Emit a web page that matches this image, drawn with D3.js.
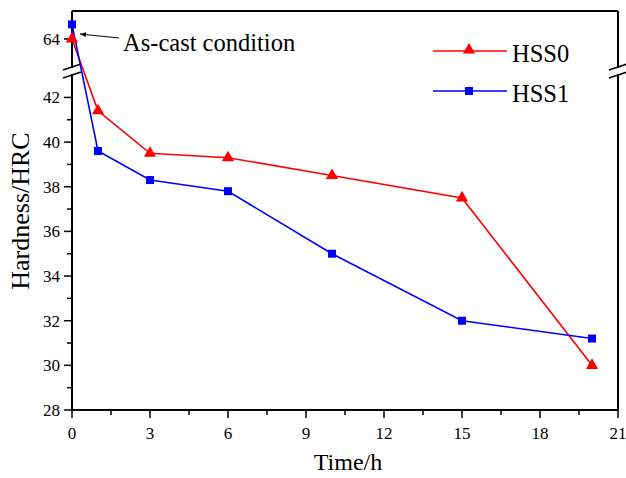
<!DOCTYPE html>
<html>
<head>
<meta charset="utf-8">
<script src="https://cdn.jsdelivr.net/npm/d3@7"></script>
<style>
  body { margin: 0; background: #fff; }
  text { font-family: "Liberation Serif", "Times New Roman", serif; fill: #000; }
</style>
</head>
<body>
<div id="display"></div>
<script>
// data
let times = [0, 1, 3, 6, 10, 15, 20];
let hss0 = [64.0, 41.4, 39.5, 39.3, 38.5, 37.5, 30.0];
let hss1 = [64.65, 39.6, 38.3, 37.8, 35.0, 32.0, 31.2];
let xTicks = [0, 3, 6, 9, 12, 15, 18, 21];
let yTicksLow = [28, 30, 32, 34, 36, 38, 40, 42];
let yTicksHigh = [64];
let seriesNames = ['HSS0', 'HSS1'];

let width = 626, height = 478;
// plot box edges
let box = {left: 72, right: 618, top: 11, bottom: 410};
let breakLo = 74, breakHi = 68;

let svg = d3.select('#display')
    .append('svg')
        .attr('width', width)
        .attr('height', height);

// x scale
let x = d3.scaleLinear()
    .domain([0, 21])
    .range([box.left, box.right]);

// broken y scale: lower part 28..43, upper part 62.7..65.25
let y = d3.scaleLinear()
    .domain([28, 43.05, 62.7, 65.25])
    .range([box.bottom, breakLo, breakHi, box.top]);

// frame (left & right sides broken)
let frame = svg.append('g')
    .attr('stroke', '#000')
    .attr('stroke-width', 2)
    .attr('fill', 'none');
frame.append('line').attr('x1', box.left).attr('x2', box.right).attr('y1', box.top).attr('y2', box.top);
frame.append('line').attr('x1', box.left).attr('x2', box.right).attr('y1', box.bottom).attr('y2', box.bottom);
[box.left, box.right].forEach(xx => {
    frame.append('line').attr('x1', xx).attr('x2', xx).attr('y1', box.top).attr('y2', breakHi);
    frame.append('line').attr('x1', xx).attr('x2', xx).attr('y1', breakLo).attr('y2', box.bottom);
    // break marks
    [breakHi - 1, breakLo + 1].forEach(yy => {
        frame.append('line')
            .attr('x1', xx - 9).attr('x2', xx + 9)
            .attr('y1', yy + 3).attr('y2', yy - 3)
            .attr('stroke-width', 1.6);
    });
});

// x axis
let xAxis = svg.append('g')
    .attr('transform', 'translate(0,' + box.bottom + ')');
xAxis.selectAll('line.minor')
    .data(d3.range(1.5, 21, 3))
    .enter().append('line')
        .attr('class', 'minor')
        .attr('x1', d => x(d)).attr('x2', d => x(d))
        .attr('y1', 0).attr('y2', 5)
        .attr('stroke', '#000').attr('stroke-width', 1.5);
xAxis.selectAll('line.major')
    .data(xTicks)
    .enter().append('line')
        .attr('class', 'major')
        .attr('x1', d => x(d)).attr('x2', d => x(d))
        .attr('y1', 0).attr('y2', 8)
        .attr('stroke', '#000').attr('stroke-width', 1.5);
xAxis.selectAll('text')
    .data(xTicks)
    .enter().append('text')
        .attr('x', d => x(d))
        .attr('y', 29)
        .attr('text-anchor', 'middle')
        .style('font-size', '17px')
        .text(d => d);

// y axis
let yAxis = svg.append('g')
    .attr('transform', 'translate(' + box.left + ',0)');
yAxis.selectAll('line.minor')
    .data(d3.range(29, 43, 2))
    .enter().append('line')
        .attr('class', 'minor')
        .attr('x1', 0).attr('x2', -5)
        .attr('y1', d => y(d)).attr('y2', d => y(d))
        .attr('stroke', '#000').attr('stroke-width', 1.5);
yAxis.selectAll('line.major')
    .data(yTicksLow.concat(yTicksHigh))
    .enter().append('line')
        .attr('class', 'major')
        .attr('x1', 0).attr('x2', -8)
        .attr('y1', d => y(d)).attr('y2', d => y(d))
        .attr('stroke', '#000').attr('stroke-width', 1.5);
yAxis.selectAll('text')
    .data(yTicksLow.concat(yTicksHigh))
    .enter().append('text')
        .attr('x', -12)
        .attr('y', d => y(d) + 6)
        .attr('text-anchor', 'end')
        .style('font-size', '17px')
        .text(d => d);

// axis titles
svg.append('text')
    .attr('x', x(10.5) + 3)
    .attr('y', 470)
    .attr('text-anchor', 'middle')
    .style('font-size', '24px')
    .text('Time/h');
svg.append('text')
    .attr('transform', 'translate(29,211) rotate(-90)')
    .attr('text-anchor', 'middle')
    .style('font-size', '26px')
    .text('Hardness/HRC');

// lines
let line = d3.line()
    .x((d, i) => x(times[i]))
    .y(d => y(d));

let colors = ['#ff0000', '#0000ff'];
let series = [hss0, hss1];

series.forEach((s, k) => {
    svg.append('path')
        .datum(s)
        .attr('fill', 'none')
        .attr('stroke', colors[k])
        .attr('stroke-width', 1.6)
        .attr('d', line);
});

let tri = d3.symbol().type(d3.symbolTriangle).size(65);
svg.selectAll('path.tri')
    .data(hss0)
    .enter().append('path')
        .attr('class', 'tri')
        .attr('transform', (d, i) => 'translate(' + x(times[i]) + ',' + y(d) + ')')
        .attr('d', tri)
        .attr('fill', colors[0]);
svg.selectAll('rect.sq')
    .data(hss1)
    .enter().append('rect')
        .attr('class', 'sq')
        .attr('x', (d, i) => x(times[i]) - 4)
        .attr('y', d => y(d) - 4)
        .attr('width', 8).attr('height', 8)
        .attr('fill', colors[1]);

// legend
let legend = svg.append('g');
seriesNames.forEach((name, k) => {
    let ly = 51 + k * 40;
    legend.append('line')
        .attr('x1', 433).attr('x2', 507)
        .attr('y1', ly).attr('y2', ly)
        .attr('stroke', colors[k]).attr('stroke-width', 1.6);
    if (k === 0) {
        legend.append('path')
            .attr('transform', 'translate(469,' + (ly - 1) + ')')
            .attr('d', tri)
            .attr('fill', colors[k]);
    } else {
        legend.append('rect')
            .attr('x', 465).attr('y', ly - 4)
            .attr('width', 8).attr('height', 8)
            .attr('fill', colors[k]);
    }
    legend.append('text')
        .attr('x', 512)
        .attr('y', ly + 11)
        .style('font-size', '24.5px')
        .text(name);
});

// annotation
svg.append('defs').append('marker')
    .attr('id', 'arrow')
    .attr('viewBox', '0 0 10 10')
    .attr('refX', 10).attr('refY', 5)
    .attr('markerWidth', 8).attr('markerHeight', 6)
    .attr('orient', 'auto')
    .append('path')
        .attr('d', 'M0,1 L10,5 L0,9 Z')
        .attr('fill', '#000');
svg.append('line')
    .attr('x1', 119).attr('y1', 38)
    .attr('x2', 80).attr('y2', 34)
    .attr('stroke', '#000').attr('stroke-width', 1)
    .attr('marker-end', 'url(#arrow)');
svg.append('text')
    .attr('x', 123)
    .attr('y', 51)
    .style('font-size', '24.5px')
    .text('As-cast condition');
</script>
</body>
</html>
